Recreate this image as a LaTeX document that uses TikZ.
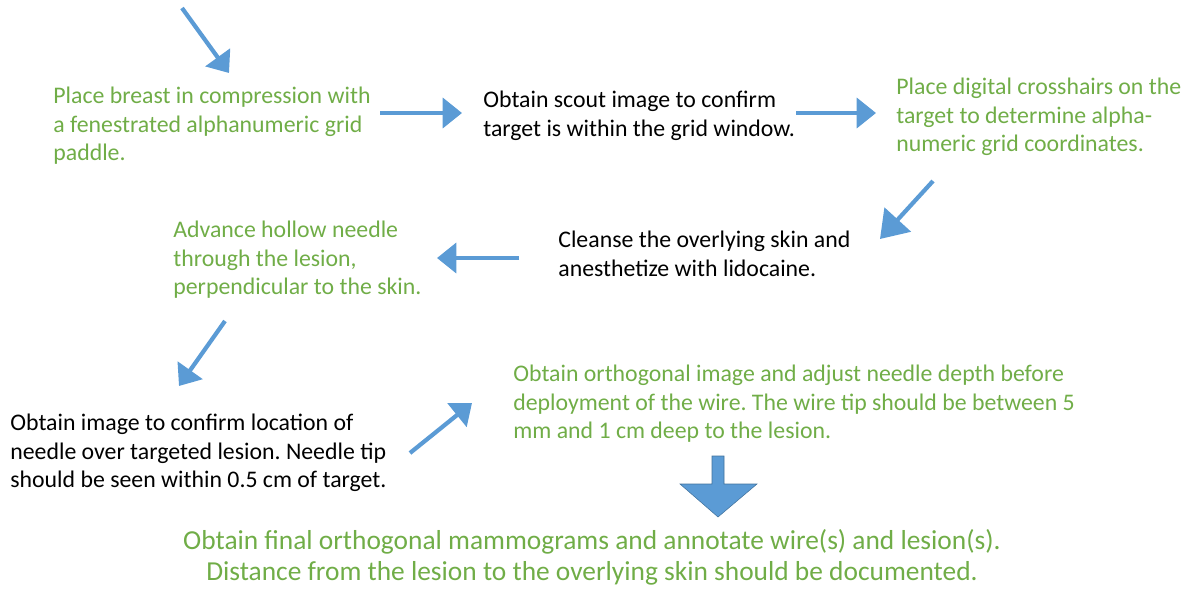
\documentclass[tikz,border=0pt]{standalone}
\usepackage{fontspec}
\setmainfont{Carlito}
\usetikzlibrary{arrows.meta}
\definecolor{stepgreen}{HTML}{70AD47}
\definecolor{arrowblue}{HTML}{5B9BD5}
\definecolor{arrowedge}{HTML}{41719C}
\frenchspacing
\begin{document}
\begin{tikzpicture}[x=0.02cm, y=-0.02cm,
  every node/.style={font=\fontsize{13.55}{16.2}\selectfont, inner sep=0pt, anchor=north west, align=left},
  greenstep/.style={text=stepgreen},
  blackstep/.style={text=black},
  flow/.style={draw=arrowblue, line width=2.4pt, -{Triangle[length=11pt, width=17pt, fill=arrowblue]}},
  bigflow/.style={flow, -{Triangle[length=15pt, width=20pt, fill=arrowblue]}}]
\useasboundingbox (0,0) rectangle (1197,589);
% steps
\node[greenstep] (place) at (53,87) {Place breast in compression with\\a fenestrated alphanumeric grid\\paddle.};
\node[blackstep] (scout) at (483,91) {Obtain scout image to confirm\\target is within the grid window.};
\node[greenstep] (crosshair) at (896,78) {Place digital crosshairs on the\\target to determine alpha-\\numeric grid coordinates.};
\node[blackstep] (cleanse) at (558,231) {Cleanse the overlying skin and\\anesthetize with lidocaine.};
\node[greenstep] (advance) at (173,221) {Advance hollow needle\\through the lesion,\\perpendicular to the skin.};
\node[blackstep] (confirm) at (10,414) {Obtain image to confirm location of\\needle over targeted lesion. Needle tip\\should be seen within 0.5 cm of target.};
\node[greenstep] (orthogonal) at (513,365) {Obtain orthogonal image and adjust needle depth before\\deployment of the wire. The wire tip should be between 5\\mm and 1 cm deep to the lesion.};
\node[greenstep, anchor=north, align=center, font=\fontsize{15.6}{17.6}\selectfont] (final) at (592,529)
  {Obtain final orthogonal mammograms and annotate wire(s) and lesion(s).\\Distance from the lesion to the overlying skin should be documented.};
% arrow ends
\coordinate (inTail) at (182,8);
\coordinate (inHead) at (229,73);
\coordinate (scoutTail) at (380,113);
\coordinate (scoutHead) at (462,113);
\coordinate (crossTail) at (796,113);
\coordinate (crossHead) at (876,113);
\coordinate (cleanseTail) at (933,181);
\coordinate (cleanseHead) at (880,239);
\coordinate (advanceTail) at (519,258);
\coordinate (advanceHead) at (437,258);
\coordinate (confirmTail) at (225,321);
\coordinate (confirmHead) at (179,386);
\coordinate (orthoTail) at (410,453);
\coordinate (orthoHead) at (472,403);
% arrows
\draw[flow] (inTail) -- (inHead);
\draw[flow] (scoutTail) -- (scoutHead);
\draw[flow] (crossTail) -- (crossHead);
\draw[bigflow] (cleanseTail) -- (cleanseHead);
\draw[flow] (advanceTail) -- (advanceHead);
\draw[flow] (confirmTail) -- (confirmHead);
\draw[flow] (orthoTail) -- (orthoHead);
% block arrow down to the last step
\filldraw[fill=arrowblue, draw=arrowedge, line width=0.3pt]
  (712,456) -- (724,456) -- (724,484) -- (757,484) -- (718,517) -- (680,484) -- (712,484) -- cycle;
\end{tikzpicture}
\end{document}
